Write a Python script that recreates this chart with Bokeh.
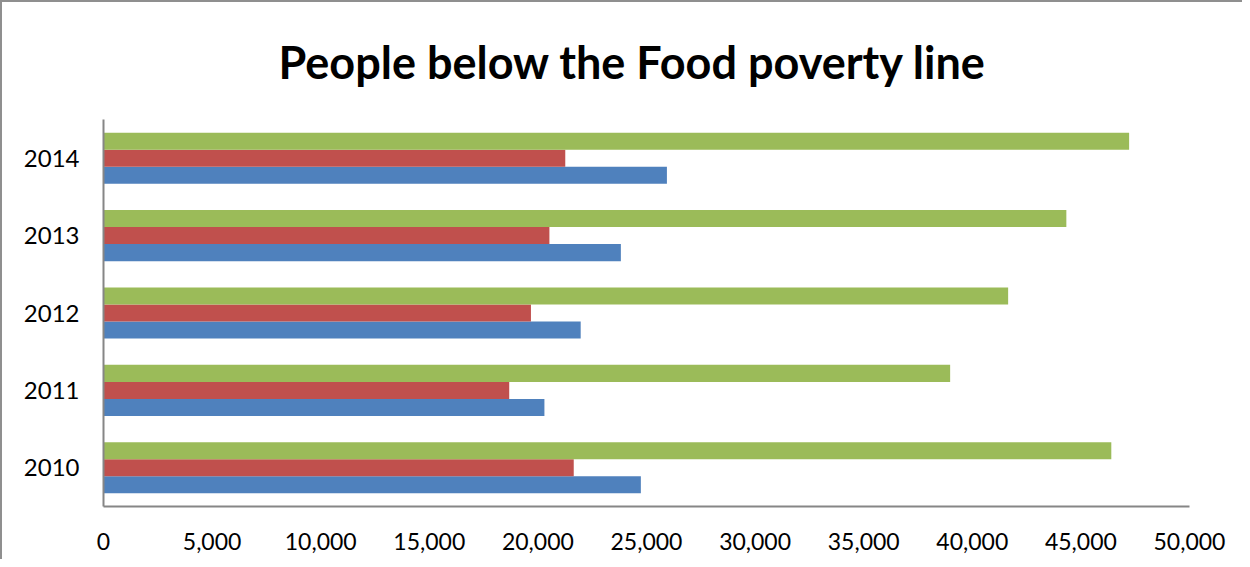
from bokeh.plotting import figure
from bokeh.models import ColumnDataSource, FactorRange, Range1d, FixedTicker, NumeralTickFormatter
from bokeh.transform import dodge
from bokeh.embed import file_html
from bokeh.resources import INLINE

# ---- data ----
years = ["2010", "2011", "2012", "2013", "2014"]
series_blue = [24740, 20300, 21970, 23820, 25940]
series_red = [21650, 18680, 19680, 20530, 21260]
series_green = [46400, 38980, 41650, 44330, 47220]
x_ticks = [0, 5000, 10000, 15000, 20000, 25000, 30000, 35000, 40000, 45000, 50000]
title_text = "People below the Food poverty line"

src = ColumnDataSource(dict(year=years, blue=series_blue, red=series_red, green=series_green))

p = figure(
    width=1242, height=559,
    y_range=FactorRange(factors=years),
    x_range=Range1d(0, 50000),
    output_backend="svg", toolbar_location=None,
    min_border_left=101, min_border_right=55, min_border_bottom=55, min_border_top=75,
)
p.styles = {"border-left": "2px solid #8f8f8f", "border-top": "2px solid #8f8f8f", "box-sizing": "border-box"}

bar_h = 0.22
p.hbar(y=dodge("year", -bar_h, range=p.y_range), right="blue", left=0, height=bar_h,
       source=src, fill_color="#4F81BD", line_color=None)
p.hbar(y=dodge("year", 0, range=p.y_range), right="red", left=0, height=bar_h,
       source=src, fill_color="#C0504D", line_color=None)
p.hbar(y=dodge("year", bar_h, range=p.y_range), right="green", left=0, height=bar_h,
       source=src, fill_color="#9BBB59", line_color=None)

p.title.text = title_text
p.title.align = "left"
p.title.offset = 175
p.title.text_font = "Lato"
p.title.text_font_style = "bold"
p.title.text_font_size = "45px"
p.title.text_color = "black"
p.title.standoff = 61

p.xgrid.visible = False
p.ygrid.visible = False
p.outline_line_color = None

p.xaxis.ticker = FixedTicker(ticks=x_ticks)
p.xaxis.formatter = NumeralTickFormatter(format="0,0")
for ax in (p.xaxis[0], p.yaxis[0]):
    ax.axis_line_color = "#868686"
    ax.axis_line_width = 2
    ax.major_tick_line_color = None
    ax.minor_tick_line_color = None
    ax.major_label_text_font = "Lato"
    ax.major_label_text_font_size = "23px"
    ax.major_label_text_color = "black"
p.xaxis.major_label_standoff = 20
p.yaxis.major_label_standoff = 18
p.yaxis.major_label_text_font_size = "24px"

open("out.html", "w").write(file_html(p, INLINE))
